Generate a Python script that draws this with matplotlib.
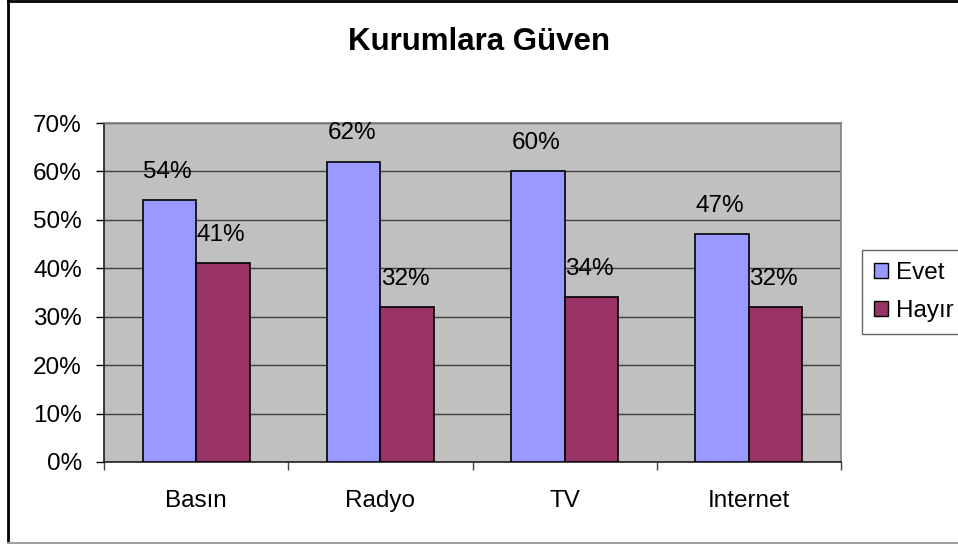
import matplotlib
matplotlib.use("Agg")
import matplotlib.pyplot as plt
from matplotlib.lines import Line2D
from matplotlib.patches import Patch
import numpy as np

categories = ["Basın", "Radyo", "TV", "Internet"]
evet = [54, 62, 60, 47]
hayir = [41, 32, 34, 32]
yticks = [0, 10, 20, 30, 40, 50, 60, 70]
title = "Kurumlara Güven"

plt.rcParams['font.family'] = ['Liberation Sans', 'DejaVu Sans']

W, H = 958, 544
FS = 17.5
fig = plt.figure(figsize=(W / 100, H / 100), dpi=100)
ax = fig.add_axes([104 / W, 1 - 462 / H, (841 - 104) / W, (462 - 123) / H])

x = np.arange(len(categories))
bw = 0.29
ax.set_facecolor('#C0C0C0')
b1 = ax.bar(x - bw / 2, evet, bw, color='#9999FF', edgecolor='black', linewidth=1.2, zorder=3, label='Evet')
b2 = ax.bar(x + bw / 2, hayir, bw, color='#993366', edgecolor='black', linewidth=1.2, zorder=3, label='Hayır')

for bars, vals in ((b1, evet), (b2, hayir)):
    for r, v in zip(bars, vals):
        ax.annotate(f"{v}%", (r.get_x() + r.get_width() / 2, v), xytext=(-1.5, 20.5),
                    textcoords='offset points', ha='center', va='center',
                    fontsize=FS, zorder=5)

ax.set_xlim(-0.5, len(categories) - 0.5)
ax.set_ylim(0, 70)
ax.set_yticks(yticks)
ax.set_yticklabels([f"{t}%" for t in yticks], fontsize=FS)
ax.yaxis.grid(True, color='#404040', linewidth=1.0, zorder=1)
ax.set_axisbelow(True)
ax.tick_params(axis='y', length=6, width=1, direction='out', pad=10, colors='black', labelsize=FS)

ax.set_xticks(x)
ax.set_xticklabels(categories, fontsize=FS)
ax.set_xticks(np.arange(len(categories) + 1) - 0.5, minor=True)
ax.tick_params(axis='x', which='major', length=0, pad=20, labelsize=FS)
ax.tick_params(axis='x', which='minor', length=6, width=1, direction='out', color='#404040')

for s in ('left', 'bottom'):
    ax.spines[s].set_color('#202020')
    ax.spines[s].set_linewidth(1.2)
for s in ('top', 'right'):
    ax.spines[s].set_color('#808080')
    ax.spines[s].set_linewidth(1.2)

fig.text(0.5, 1 - 42 / H, title, ha='center', va='center', fontsize=22.5, fontweight='bold')

handles = [Patch(facecolor='#9999FF', edgecolor='black', label='Evet'),
           Patch(facecolor='#993366', edgecolor='black', label='Hayır')]
leg = fig.legend(handles=handles, loc='center left', bbox_to_anchor=(862 / W, 1 - 292 / H),
                 fontsize=FS, frameon=True, fancybox=False, edgecolor='#404040',
                 handlelength=0.55, handleheight=0.55, handletextpad=0.35,
                 borderpad=0.5, labelspacing=0.65, borderaxespad=0)
leg.get_frame().set_linewidth(1.0)

# outer chart border
fig.add_artist(Line2D([8 / W, 8 / W], [0, 1], color='black', linewidth=2, transform=fig.transFigure))
fig.add_artist(Line2D([8 / W, 1], [1 - 1 / H, 1 - 1 / H], color='black', linewidth=2, transform=fig.transFigure))
fig.add_artist(Line2D([8 / W, 1], [1.5 / H, 1.5 / H], color='#A0A0A0', linewidth=1.5, transform=fig.transFigure))

fig.savefig('out.png', dpi=100)
